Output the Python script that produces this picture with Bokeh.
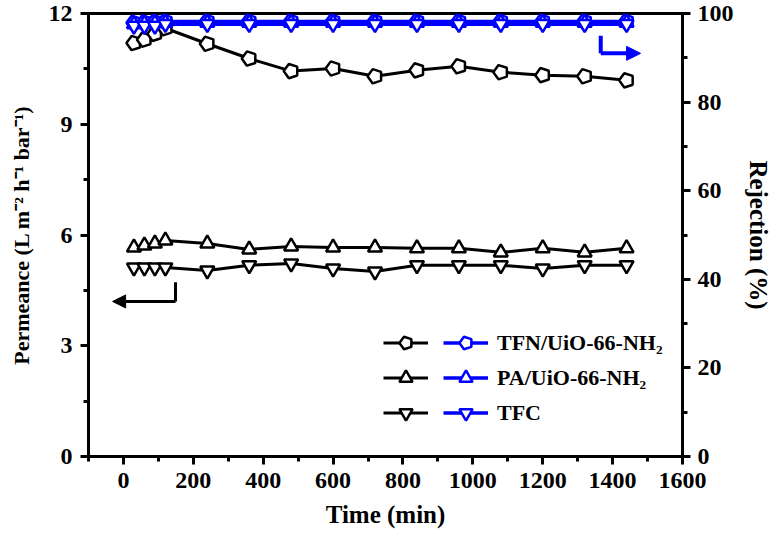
import numpy as np
from bokeh.plotting import figure
from bokeh.models import (Range1d, LinearAxis, SingleIntervalTicker, Legend,
                          LegendItem, Arrow, NormalHead)
from bokeh.embed import file_html
from bokeh.resources import INLINE

# ---------------- data ----------------
time_min = [30, 60, 90, 120, 240, 360, 480, 600, 720, 840, 960, 1080, 1200, 1320, 1440]
perm_tfn = [11.20, 11.29, 11.45, 11.60, 11.18, 10.78, 10.44, 10.51, 10.30, 10.46, 10.57, 10.41, 10.33, 10.30, 10.19]
perm_pa = [5.66, 5.72, 5.77, 5.85, 5.77, 5.61, 5.69, 5.66, 5.66, 5.64, 5.64, 5.53, 5.64, 5.53, 5.64]
perm_tfc = [5.12, 5.12, 5.12, 5.12, 5.04, 5.18, 5.23, 5.09, 5.01, 5.18, 5.18, 5.18, 5.09, 5.18, 5.18]
rej_tfn = [97.9, 98.0, 98.1, 98.2, 98.2, 98.2, 98.2, 98.2, 98.2, 98.2, 98.2, 98.2, 98.2, 98.2, 98.2]
rej_pa = [97.6, 97.7, 97.8, 97.9, 97.9, 97.9, 97.9, 97.9, 97.9, 97.9, 97.9, 97.9, 97.9, 97.9, 97.9]
rej_tfc = [97.2, 97.2, 97.2, 97.6, 97.6, 97.6, 97.6, 97.6, 97.6, 97.6, 97.6, 97.6, 97.6, 97.6, 97.6]
series_labels = ["TFN/UiO-66-NH\u2082", "PA/UiO-66-NH\u2082", "TFC"]

x_ticks_interval = 200
left_ticks_interval = 3
right_ticks_interval = 20

# arrow annotations (data units)
black_arrow = dict(x_corner=149, y_top=4.72, y_corner=4.2, x_tip=-31)
blue_arrow = dict(x_corner=1366, y_top=95.0, y_corner=91.0, x_tip=1480)

FONT = "Liberation Serif"
BLUE = "#0000ff"

p = figure(width=774, height=542, x_range=Range1d(-100, 1600), y_range=Range1d(0, 12),
           output_backend="svg", toolbar_location=None,
           min_border_left=88, min_border_right=89, min_border_top=13, min_border_bottom=86)
p.extra_y_ranges = {"rej": Range1d(0, 100)}
p.grid.visible = False
p.outline_line_color = "black"
p.outline_line_width = 3
p.outline_line_alpha = 1.0

right_axis = LinearAxis(y_range_name="rej")
p.add_layout(right_axis, "right")


def style_axis(ax, label, ticker, label_size):
    ax.ticker = ticker
    ax.axis_label = label
    ax.axis_line_width = 3
    ax.axis_line_color = "black"
    ax.major_tick_line_width = 3
    ax.minor_tick_line_width = 3
    ax.major_tick_out = 8
    ax.major_tick_in = 0
    ax.minor_tick_out = 5
    ax.minor_tick_in = 0
    ax.major_label_text_font = FONT
    ax.major_label_text_font_style = "bold"
    ax.major_label_text_font_size = "24px"
    ax.major_label_text_color = "black"
    ax.axis_label_text_font = FONT
    ax.axis_label_text_font_style = "bold"
    ax.axis_label_text_font_size = label_size
    ax.axis_label_text_color = "black"


style_axis(p.xaxis[0], "Time (min)", SingleIntervalTicker(interval=x_ticks_interval, num_minor_ticks=2), "25px")
style_axis(p.yaxis[0], "Permeance (L m\u207b\u00b2 h\u207b\u00b9 bar\u207b\u00b9)",
           SingleIntervalTicker(interval=left_ticks_interval, num_minor_ticks=2), "22px")
style_axis(right_axis, "Rejection (%)", SingleIntervalTicker(interval=right_ticks_interval, num_minor_ticks=2), "25px")
p.xaxis[0].major_label_standoff = 8
p.xaxis[0].axis_label_standoff = 10
p.yaxis[0].major_label_standoff = 8
p.yaxis[0].axis_label_standoff = 12
right_axis.major_label_standoff = 7
right_axis.axis_label_standoff = 8


def pentagon(x, y, color, rng="default"):
    try:
        return p.ngon(x=x, y=y, radius=7.5, radius_units="screen", n=5, angle=np.pi / 2,
                      fill_color="white", line_color=color, line_width=2.5, y_range_name=rng)
    except Exception:
        return p.scatter(x=x, y=y, marker="hex", size=14, fill_color="white",
                         line_color=color, line_width=2.5, y_range_name=rng)


def tri(x, y, color, marker, rng="default"):
    return p.scatter(x=x, y=y, marker=marker, size=14, fill_color="white",
                     line_color=color, line_width=2.5, y_range_name=rng)


# black permeance series
bl1 = p.line(time_min, perm_tfn, line_color="black", line_width=3)
bm1 = pentagon(time_min, perm_tfn, "black")
bl2 = p.line(time_min, perm_pa, line_color="black", line_width=3)
bm2 = tri(time_min, perm_pa, "black", "triangle")
bl3 = p.line(time_min, perm_tfc, line_color="black", line_width=3)
bm3 = tri(time_min, perm_tfc, "black", "inverted_triangle")

# blue rejection series
ul1 = p.line(time_min, rej_tfn, line_color=BLUE, line_width=3.5, y_range_name="rej")
um1 = pentagon(time_min, rej_tfn, BLUE, "rej")
ul2 = p.line(time_min, rej_pa, line_color=BLUE, line_width=3.5, y_range_name="rej")
um2 = tri(time_min, rej_pa, BLUE, "triangle", "rej")
ul3 = p.line(time_min, rej_tfc, line_color=BLUE, line_width=3.5, y_range_name="rej")
um3 = tri(time_min, rej_tfc, BLUE, "inverted_triangle", "rej")

# arrows
p.add_layout(Arrow(end=None, x_start=black_arrow["x_corner"], y_start=black_arrow["y_top"],
                   x_end=black_arrow["x_corner"], y_end=black_arrow["y_corner"],
                   line_color="black", line_width=3))
p.add_layout(Arrow(end=NormalHead(size=13, fill_color="black", line_color="black", line_width=1),
                   x_start=black_arrow["x_corner"], y_start=black_arrow["y_corner"],
                   x_end=black_arrow["x_tip"], y_end=black_arrow["y_corner"],
                   line_color="black", line_width=3))
p.add_layout(Arrow(end=None, x_start=blue_arrow["x_corner"], y_start=blue_arrow["y_top"],
                   x_end=blue_arrow["x_corner"], y_end=blue_arrow["y_corner"],
                   line_color=BLUE, line_width=4, y_range_name="rej"))
p.add_layout(Arrow(end=NormalHead(size=14, fill_color=BLUE, line_color=BLUE, line_width=1),
                   x_start=blue_arrow["x_corner"], y_start=blue_arrow["y_corner"],
                   x_end=blue_arrow["x_tip"], y_end=blue_arrow["y_corner"],
                   line_color=BLUE, line_width=4, y_range_name="rej"))

# legends: black column (no text) + blue column with labels
common = dict(border_line_color=None, background_fill_alpha=0, padding=0, margin=0,
              spacing=2, glyph_width=45, glyph_height=33, label_height=33,
              label_text_font=FONT, label_text_font_style="bold",
              label_text_font_size="22px", label_text_color="black")
leg_black = Legend(items=[LegendItem(label=" ", renderers=[bl1, bm1]),
                          LegendItem(label=" ", renderers=[bl2, bm2]),
                          LegendItem(label=" ", renderers=[bl3, bm3])],
                   location=(295, 27), label_standoff=0, label_width=0, **common)
leg_blue = Legend(items=[LegendItem(label=series_labels[0], renderers=[ul1, um1]),
                         LegendItem(label=series_labels[1], renderers=[ul2, um2]),
                         LegendItem(label=series_labels[2], renderers=[ul3, um3])],
                  location=(355, 27), label_standoff=9, **common)
p.add_layout(leg_black, "center")
p.add_layout(leg_blue, "center")

open("out.html", "w").write(file_html(p, INLINE))
